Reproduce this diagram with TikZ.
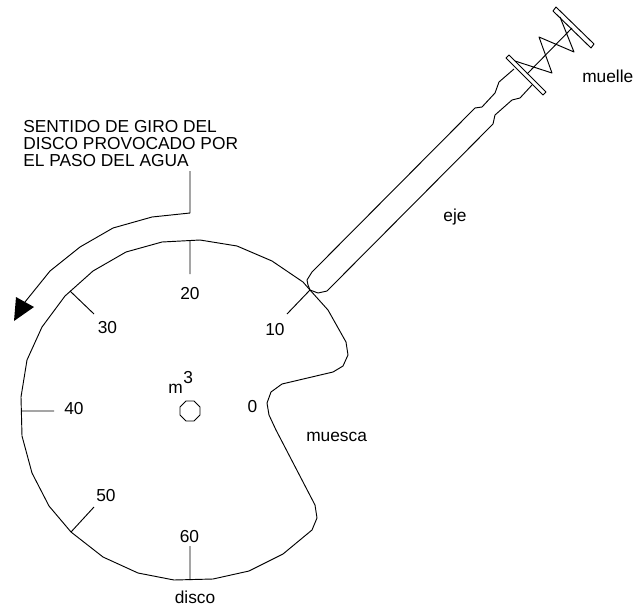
\documentclass[tikz,border=0pt]{standalone}
\usepackage{fontspec}
\setmainfont{Liberation Sans}
\tikzset{
  lbl/.style={inner sep=0pt,font=\fontsize{13pt}{13pt}\selectfont,anchor=base},
  ln/.style={draw=black,line width=0.7pt,line join=round}
}
\begin{document}
\begin{tikzpicture}[x=0.75pt,y=-0.75pt]
\useasboundingbox (0,0) rectangle (633,608);
% disc outline
\draw[ln] (310,290) -- (328,310) -- (346,342) -- (348,355) -- (343,366) -- (333,372) -- (282,384) -- (271,392) -- (267,403) -- (269,415) -- (276,430) -- (315,505) -- (317,518) -- (312,530) -- (283,554) -- (249,571) -- (213,579) -- (174,580) -- (138,573) -- (103,557) -- (71,532) -- (49,506) -- (32,473) -- (22,436) -- (21,397) -- (27,360) -- (42,327) -- (65,296) -- (93,271) -- (126,252) -- (162,242) -- (200,240) -- (237,246) -- (272,261) -- (303,282) -- cycle;
% scale ticks
\coordinate (t10a) at (310,290); \coordinate (t10b) at (287,314);
\coordinate (t20a) at (190,241); \coordinate (t20b) at (190,274);
\coordinate (t30a) at (70,291); \coordinate (t30b) at (94,314);
\coordinate (t40a) at (21,411); \coordinate (t40b) at (54,411);
\coordinate (t50a) at (71,532); \coordinate (t50b) at (94,507);
\coordinate (t60a) at (190,580); \coordinate (t60b) at (190,546);
\draw[ln] (t10a)--(t10b) (t20a)--(t20b) (t30a)--(t30b) (t40a)--(t40b) (t50a)--(t50b) (t60a)--(t60b);
% hub
\draw[ln] (186,401) -- (194,401) -- (200,407) -- (200,415) -- (194,421) -- (186,421) -- (180,415) -- (180,407) -- cycle;
% direction arrow
\draw[ln] (190,171) -- (190,213) -- (152,217) -- (113,228) -- (80,247) -- (50,271) -- (25,302);
\fill (16,297) -- (34,307) -- (14,321) -- cycle;
% shaft
\draw[ln] (514,69) -- (499,82) -- (495,93) -- (482,107) -- (475,108) -- (312,272) -- (307,280) -- (308,285) -- (310,290) -- (318,293) -- (327,291) -- (493,124) -- (495,115) -- (512,100) -- (520,98) -- (532,85);
% plates
\draw[ln] (509,55) -- (506,58) -- (543,95) -- (546,92) -- cycle;
\draw[ln] (556,7) -- (553,11) -- (591,48) -- (594,44) -- cycle;
% rod and spring
\draw[ln] (527,74) -- (572,28);
\draw[ln] (515,61) -- (552,73) -- (539,37) -- (574,52) -- (560,17);
% labels
\node[lbl,anchor=base west] (t1) at (23,132) {SENTIDO DE GIRO DEL};
\node[lbl,anchor=base west] (t2) at (23,149) {DISCO PROVOCADO POR};
\node[lbl,anchor=base west] (t3) at (23,166) {EL PASO DEL AGUA};
\node[lbl] (n10) at (275,335) {10};
\node[lbl] (n20) at (190,299) {20};
\node[lbl] (n30) at (107.5,333) {30};
\node[lbl] (n40) at (74,414) {40};
\node[lbl] (n50) at (106,501) {50};
\node[lbl] (n60) at (189.5,542) {60};
\node[lbl] (n0) at (252.5,412) {0};
\node[lbl,anchor=base west] (m) at (168,393) {m};
\node[lbl,anchor=base west] (cube) at (183,383) {3};
\node[lbl,anchor=base west] (muesca) at (306,441) {muesca};
\node[lbl] (disco) at (195,603) {disco};
\node[lbl] (eje) at (455,221) {eje};
\node[lbl,anchor=base west] (muelle) at (582,82) {muelle};
\end{tikzpicture}
\end{document}
